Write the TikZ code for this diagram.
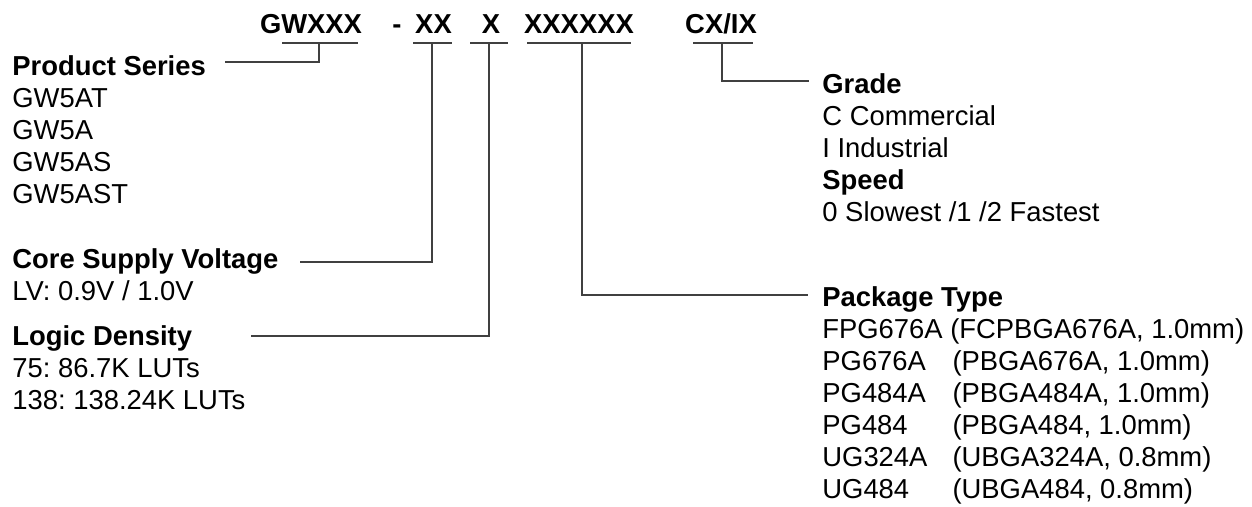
\documentclass[tikz,border=0pt]{standalone}
\usepackage{fontspec}
\setmainfont{Liberation Sans}
\usetikzlibrary{positioning}
\frenchspacing
\newcommand{\pkgrow}[2]{\makebox[4.75em][l]{#1}#2}

\begin{document}
\begin{tikzpicture}[
  x=0.5pt, y=-0.5pt,
  code/.style={inner sep=0pt, anchor=base, font=\fontsize{13.7}{16}\selectfont\bfseries},
  list/.style={inner sep=0pt, anchor=north west, align=left,
               font=\fontsize{13.7}{16}\selectfont},
  link/.style={draw=black!75, line width=0.8pt}
]
\useasboundingbox (0,0) rectangle (1252,507);

% part number
\node[code] (gw)  at (311,34) {GWXXX};
\node[code] (dash) at (397,34) {-};
\node[code] (xx)  at (433.5,34) {XX};
\node[code] (x)   at (491,34) {X};
\node[code] (pkg) at (579,34) {XXXXXX};
\node[code] (cx)  at (721,34) {CX/IX};

% field descriptions
\node[list] (series) at (12,55.4) {\textbf{Product Series}\\GW5AT\\GW5A\\GW5AS\\GW5AST};
\node[list] (voltage) at (12,248) {\textbf{Core Supply Voltage}\\LV: 0.9V / 1.0V};
\node[list] (density) at (12,325.4) {\textbf{Logic Density}\\75: 86.7K LUTs\\138: 138.24K LUTs};
\node[list] (grade) at (822,73.4) {\textbf{Grade}\\C Commercial\\I Industrial\\\textbf{Speed}\\0 Slowest /1 /2 Fastest};
\node[list] (package) at (822,286.4) {\textbf{Package Type}\\
  FPG676A (FCPBGA676A, 1.0mm)\\
  \pkgrow{PG676A}{(PBGA676A, 1.0mm)}\\
  \pkgrow{PG484A}{(PBGA484A, 1.0mm)}\\
  \pkgrow{PG484}{(PBGA484, 1.0mm)}\\
  \pkgrow{UG324A}{(UBGA324A, 0.8mm)}\\
  \pkgrow{UG484}{(UBGA484, 0.8mm)}};

% underlines and leaders
\coordinate (gw-u) at (319,43);
\coordinate (xx-u) at (432,43);
\coordinate (x-u) at (489,43);
\coordinate (pkg-u) at (582,43);
\coordinate (cx-u) at (722,43);
\coordinate (series-in) at (225,62);
\coordinate (voltage-in) at (300,262);
\coordinate (density-in) at (251,336);
\coordinate (package-in) at (808,295);
\coordinate (grade-in) at (809,81);

\draw[link] (282,43) -- (358,43);
\draw[link] (413,43) -- (452,43);
\draw[link] (470,43) -- (508,43);
\draw[link] (527,43) -- (631,43);
\draw[link] (693,43) -- (753,43);

\draw[link] (gw-u) |- (series-in);
\draw[link] (xx-u) |- (voltage-in);
\draw[link] (x-u) |- (density-in);
\draw[link] (pkg-u) |- (package-in);
\draw[link] (cx-u) |- (grade-in);
\end{tikzpicture}
\end{document}
